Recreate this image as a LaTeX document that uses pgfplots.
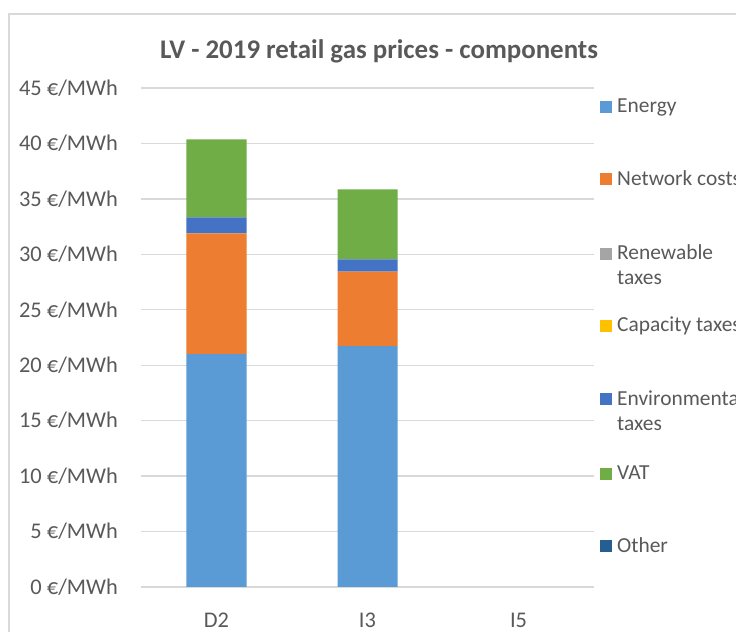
\documentclass[border=0pt]{standalone}
\usepackage{fontspec}
\setmainfont{Carlito}
\usepackage{pgfplots}
\pgfplotsset{compat=1.18}

\definecolor{txt}{RGB}{89,89,89}
\definecolor{gridc}{RGB}{217,217,217}
\definecolor{energy}{RGB}{91,155,213}
\definecolor{network}{RGB}{237,125,49}
\definecolor{renew}{RGB}{165,165,165}
\definecolor{capacity}{RGB}{255,192,0}
\definecolor{environ}{RGB}{68,114,196}
\definecolor{vat}{RGB}{112,173,71}
\definecolor{other}{RGB}{37,94,145}

\newcommand{\legfont}{\fontsize{21.5}{26}\selectfont}
% legend entry: image y of square centre, colour, text
\newcommand{\legitem}[3]{%
  \fill[#2] (459,{587-#1-6}) rectangle ++(12,12);
  \node[anchor=base west, inner sep=0pt, text=txt, font=\legfont]
    at (476,{587-#1-6}) {#3};}

\begin{document}
\begin{tikzpicture}[x=1bp,y=1bp]
  \begin{axis}[
    at={(0,0)}, anchor=south west,
    scale only axis, width=453bp, height=499bp,
    ybar stacked, bar width=60bp,
    xmin=-0.5, xmax=2.5, ymin=0, ymax=45,
    xtick={0,1,2}, xticklabels={D2,I3,I5},
    ytick={0,5,...,45},
    axis line style={draw=none},
    major tick length=0pt,
    ymajorgrids,
    major grid style={draw=gridc, line width=1.3bp},
    tick label style={font=\fontsize{22.5}{26}\selectfont, text=txt},
    /pgf/number format/assume math mode=true,
    yticklabel={\pgfmathprintnumber{\tick}~€/MWh},
    yticklabel style={inner sep=0pt, anchor=east, xshift=-23bp},
    xticklabel style={inner sep=0pt, anchor=north, yshift=-26bp},
  ]
    \addplot[fill=energy, draw=none] coordinates {(0,21.00) (1,21.73)};
    \addplot[fill=network, draw=none] coordinates {(0,10.89) (1,6.70)};
    \addplot[fill=renew, draw=none] coordinates {(0,0) (1,0)};
    \addplot[fill=capacity, draw=none] coordinates {(0,0) (1,0)};
    \addplot[fill=environ, draw=none] coordinates {(0,1.45) (1,1.12)};
    \addplot[fill=vat, draw=none] coordinates {(0,7.03) (1,6.31)};
    \addplot[fill=other, draw=none] coordinates {(0,0) (1,0)};
  \end{axis}

  % chart frame
  \draw[gridc, line width=1.5bp] (-132,-45) -- (-132,573) -- (600,573);

  % title
  \node[anchor=base, inner sep=0pt, text=txt, font=\fontsize{27}{32}\selectfont\bfseries]
    at (238,528) {LV - 2019 retail gas prices - components};

  % legend
  \legitem{107}{energy}{Energy}
  \legitem{179.5}{network}{Network costs}
  \legitem{254}{renew}{Renewable}
  \node[anchor=base west, inner sep=0pt, text=txt, font=\legfont]
    at (476,{587-285}) {taxes};
  \legitem{326}{capacity}{Capacity taxes}
  \legitem{399.5}{environ}{Environmental}
  \node[anchor=base west, inner sep=0pt, text=txt, font=\legfont]
    at (476,{587-431}) {taxes};
  \legitem{474}{vat}{VAT}
  \legitem{546.5}{other}{Other}

  \pgfresetboundingbox
  \useasboundingbox (-141,-45) rectangle (595,587);
\end{tikzpicture}
\end{document}
